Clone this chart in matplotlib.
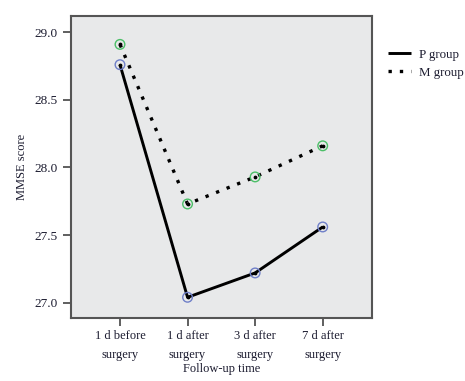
import matplotlib
matplotlib.use("Agg")
import matplotlib.pyplot as plt

# Chart values
timepoints = ["1 d before\nsurgery", "1 d after\nsurgery", "3 d after\nsurgery", "7 d after\nsurgery"]
p_group = [28.76, 27.04, 27.22, 27.56]
m_group = [28.91, 27.73, 27.93, 28.16]
y_ticks = [27.0, 27.5, 28.0, 28.5, 29.0]

plt.rcParams['font.family'] = ['Liberation Serif', 'DejaVu Serif']

fig = plt.figure(figsize=(4.65, 3.81), dpi=100)
ax = fig.add_axes([0.1527, 0.1654, 0.6473, 0.7926])
ax.set_facecolor('#e8e9ea')

x = list(range(len(timepoints)))

# Lines
ax.plot(x, p_group, color='black', linewidth=2.1, solid_capstyle='butt', label='P group', zorder=2)
ax.plot(x, m_group, color='black', linewidth=2.4, linestyle=(0, (1, 2.4)), label='M group', zorder=2)

# Hollow markers with a small dot in the middle
ax.scatter(x, p_group, s=48, facecolors='none', edgecolors='#6f7fc8', linewidths=1.0, zorder=3)
ax.scatter(x, m_group, s=48, facecolors='none', edgecolors='#4cbf68', linewidths=1.0, zorder=3)
ax.scatter(x + x, p_group + m_group, s=3, color='black', zorder=4)

ax.set_xlim(-0.725, 3.73)
ax.set_ylim(26.887, 29.12)
ax.set_xticks(x)
ax.set_xticklabels(timepoints, fontsize=9, linespacing=1.75, color='#1c1c30')
ax.set_yticks(y_ticks)
ax.set_yticklabels(["%.1f" % v for v in y_ticks], fontsize=9.5, color='#1c1c30')
ax.tick_params(axis='both', direction='out', length=6, width=1.2, color='#444444')
ax.tick_params(axis='x', pad=3)

for side in ax.spines.values():
    side.set_color('#555555')
    side.set_linewidth(1.5)

ax.set_xlabel("Follow-up time", fontsize=9, color='#1c1c30', labelpad=1)
ax.set_ylabel("MMSE score", fontsize=9, color='#1c1c30', labelpad=5)

ax.legend(loc='upper left', bbox_to_anchor=(1.015, 0.93), frameon=False, fontsize=9.3,
          handlelength=1.8, handletextpad=0.6, labelspacing=0.45, labelcolor='#1c1c30')

fig.savefig("out.png", dpi=100)
